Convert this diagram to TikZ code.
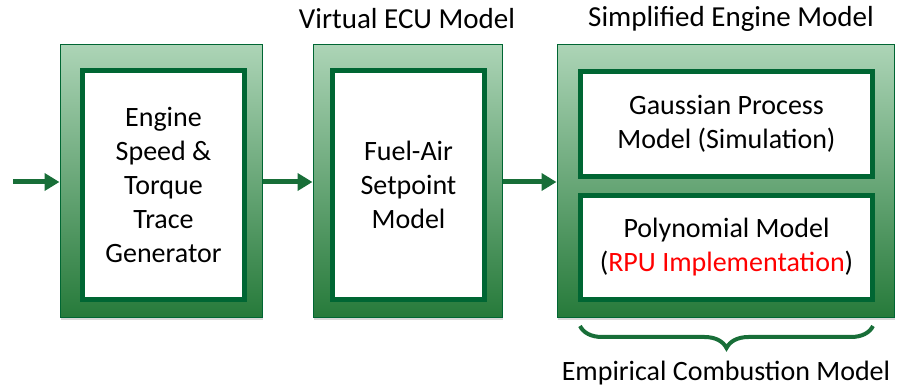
\documentclass[tikz,border=0pt]{standalone}
\usepackage{fontspec}
\setmainfont{Carlito}
\usetikzlibrary{arrows.meta,shadows,decorations.pathreplacing}
\definecolor{boxtop}{RGB}{172,212,182}
\definecolor{boxbot}{RGB}{38,122,58}
\definecolor{edgegreen}{RGB}{0,102,51}
\definecolor{flowgreen}{RGB}{24,110,56}
\tikzset{
  outerbox/.style={draw=edgegreen,line width=1pt,top color=boxtop,bottom color=boxbot,
    drop shadow={opacity=0.3,shadow xshift=1pt,shadow yshift=-2.5pt}},
  innerbox/.style={draw=edgegreen,fill=white,line width=5pt,align=center,
    font=\fontsize{28}{34}\selectfont},
  flowarrow/.style={draw=flowgreen,line width=5pt,-{Triangle[length=15pt,width=17pt]}},
  title/.style={font=\fontsize{29}{34}\selectfont}
}
\begin{document}
\begin{tikzpicture}[x=1pt,y=-1pt]
  \useasboundingbox (0,0) rectangle (903,390);

  \node[outerbox,minimum width=202pt,minimum height=273pt] (gen) at (161,181.5) {};
  \node[outerbox,minimum width=189pt,minimum height=273pt] (ecu) at (407.5,181.5) {};
  \node[outerbox,minimum width=337pt,minimum height=273pt] (eng) at (725.5,181.5) {};

  \node[innerbox,minimum width=162pt,minimum height=229pt] (genin) at (163.5,185)
    {Engine\\Speed \&\\Torque\\Trace\\Generator};
  \node[innerbox,minimum width=152pt,minimum height=229pt] (ecuin) at (408.5,185)
    {Fuel-Air\\Setpoint\\Model};
  \node[innerbox,minimum width=292pt,minimum height=105pt] (gp) at (726.5,124)
    {Gaussian Process\\Model (Simulation)};
  \node[innerbox,minimum width=292pt,minimum height=104pt] (poly) at (726.5,247.5)
    {Polynomial Model\\(\textcolor{red}{RPU Implementation})};

  \node[title] (ecutitle) at (407,19) {Virtual ECU Model};
  \node[title] (engtitle) at (731,19) {Simplified Engine Model};

  \coordinate (start) at (13,182);
  \draw[flowarrow] (start) -- (gen.west |- start);
  \draw[flowarrow] (gen.east |- start) -- (ecu.west |- start);
  \draw[flowarrow] (ecu.east |- start) -- (eng.west |- start);

  \coordinate (brL) at (580,326);
  \coordinate (brR) at (873,326);
  \draw[draw=flowgreen,line width=4pt,decoration={brace,mirror,amplitude=22pt},decorate]
    (brL) -- (brR);
  \node[font=\fontsize{28}{34}\selectfont] (combust) at (726,373) {Empirical Combustion Model};
\end{tikzpicture}
\end{document}
